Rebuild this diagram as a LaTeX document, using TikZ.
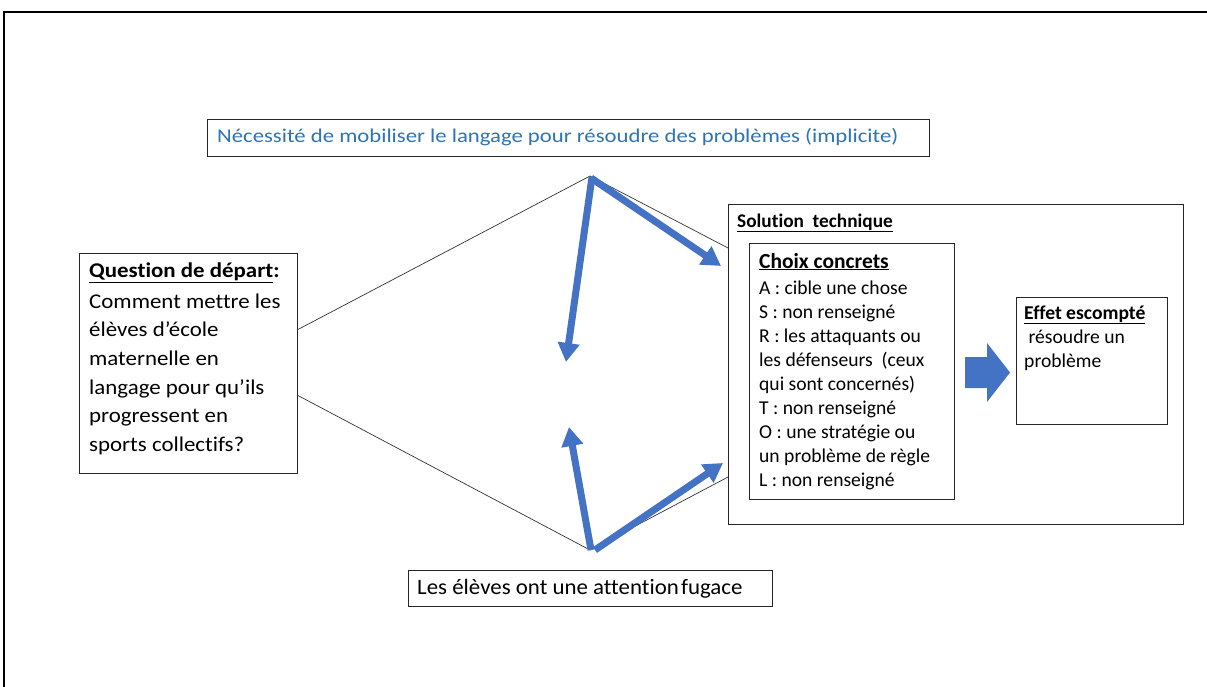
\documentclass[tikz,border=0pt]{standalone}
\usepackage{fontspec}
\setmainfont{Carlito}[Ligatures=NoCommon]
\newfontfamily\topfont{Carlito}[FakeStretch=1.165, Ligatures=NoCommon]
\newfontfamily\qfont{Carlito}[FakeStretch=1.09, Ligatures=NoCommon]
\newfontfamily\botfont{Carlito}[FakeStretch=1.04, Ligatures=NoCommon]
\usetikzlibrary{arrows.meta}
\definecolor{arrowblue}{HTML}{4472C4}
\definecolor{textblue}{HTML}{2E74B5}
\begin{document}
\begin{tikzpicture}[x=1pt,y=-1pt,
  box/.style={draw=black!85, line width=1pt, inner sep=0pt, anchor=north west},
  txt/.style={anchor=base west, inner sep=0pt, align=left},
  link/.style={draw=black!80, line width=0.7pt},
  bluearrow/.style={draw=arrowblue, line width=7pt, -{Triangle[length=19pt,width=21pt]}}
]
\useasboundingbox (0,0) rectangle (1207,687);
% outer frame
\draw[line width=2.2pt] (4,687) -- (4,12) -- (1207,12);

% boxes
\node[box, minimum width=722pt, minimum height=37pt] (topbox) at (207,119) {};
\node[box, minimum width=218pt, minimum height=220pt] (qbox) at (79,253) {};
\node[box, minimum width=455pt, minimum height=320pt] (solbox) at (728,204) {};
\node[box, minimum width=205pt, minimum height=256pt] (choixbox) at (749,243) {};
\node[box, minimum width=151pt, minimum height=127pt] (effbox) at (1016,297) {};
\node[box, minimum width=364pt, minimum height=36pt] (botbox) at (408,570) {};

% texts
\node[txt, text=textblue, font=\topfont\fontsize{19.5}{24}\selectfont] (toptxt) at (217,143)
  {Nécessité de mobiliser le langage pour résoudre des problèmes (implicite)};
\node[txt, font=\qfont\fontsize{21}{28}\selectfont\bfseries] (qhead) at (89,277)
  {\underline{Question de départ}:};
\node[anchor=north west, inner sep=0pt, align=left, font=\qfont\fontsize{21}{28.6}\selectfont] (qtxt) at (89,288)
  {\strut Comment mettre les\\ élèves d’école\\ maternelle en\\ langage pour qu’ils\\ progressent en\\ sports collectifs?};
\node[txt, font=\fontsize{19.3}{24}\selectfont\bfseries] (soltxt) at (737,227)
  {\underline{Solution\ \ technique}};
\node[txt, font=\fontsize{21.5}{24}\selectfont\bfseries] (choixhead) at (759,268)
  {\underline{Choix concrets}};
\node[anchor=north west, inner sep=0pt, align=left, font=\fontsize{19.6}{24.1}\selectfont] (choixtxt) at (759,277.1)
  {\strut A : cible une chose\\ S : non renseigné\\ R : les attaquants ou\\ les défenseurs\ \ (ceux\\ qui sont concernés)\\ T : non renseigné\\ O : une stratégie ou\\ un problème\ de règle\\ L : non renseigné};
\node[txt, font=\fontsize{19.6}{24}\selectfont\bfseries] (effhead) at (1024,319)
  {\underline{Effet escompté}};
\node[anchor=north west, inner sep=0pt, align=left, font=\fontsize{19.6}{24.1}\selectfont] (efftxt) at (1024,326.1)
  {\strut\ résoudre un\\ problème};
\node[txt, font=\botfont\fontsize{22}{26}\selectfont] (bottxt) at (417,594)
  {Les élèves ont une attention\hspace{0.1em}fugace};

% thin connectors
\coordinate (qa) at (297,330);
\coordinate (qb) at (297,395);
\coordinate (apexT) at (590,176);
\coordinate (apexB) at (590,550);
\coordinate (sa) at (728,248);
\coordinate (sb) at (728,477);
\draw[link] (qa) -- (apexT) -- (sa);
\draw[link] (qb) -- (apexB) -- (sb);

% blue arrows
\coordinate (t1s) at (591,178);
\coordinate (t1e) at (721,266);
\coordinate (t2s) at (592,177);
\coordinate (t2e) at (566,362);
\coordinate (b1s) at (591,550);
\coordinate (b1e) at (569,427);
\coordinate (b2s) at (595,550);
\coordinate (b2e) at (723,463);
\draw[bluearrow] (t1s) -- (t1e);
\draw[bluearrow] (t2s) -- (t2e);
\draw[bluearrow] (b1s) -- (b1e);
\draw[bluearrow] (b2s) -- (b2e);

% block arrow
\fill[arrowblue] (965,357) -- (987,357) -- (987,343) -- (1010,372.5) -- (987,402) -- (987,388) -- (965,388) -- cycle;
\end{tikzpicture}
\end{document}
